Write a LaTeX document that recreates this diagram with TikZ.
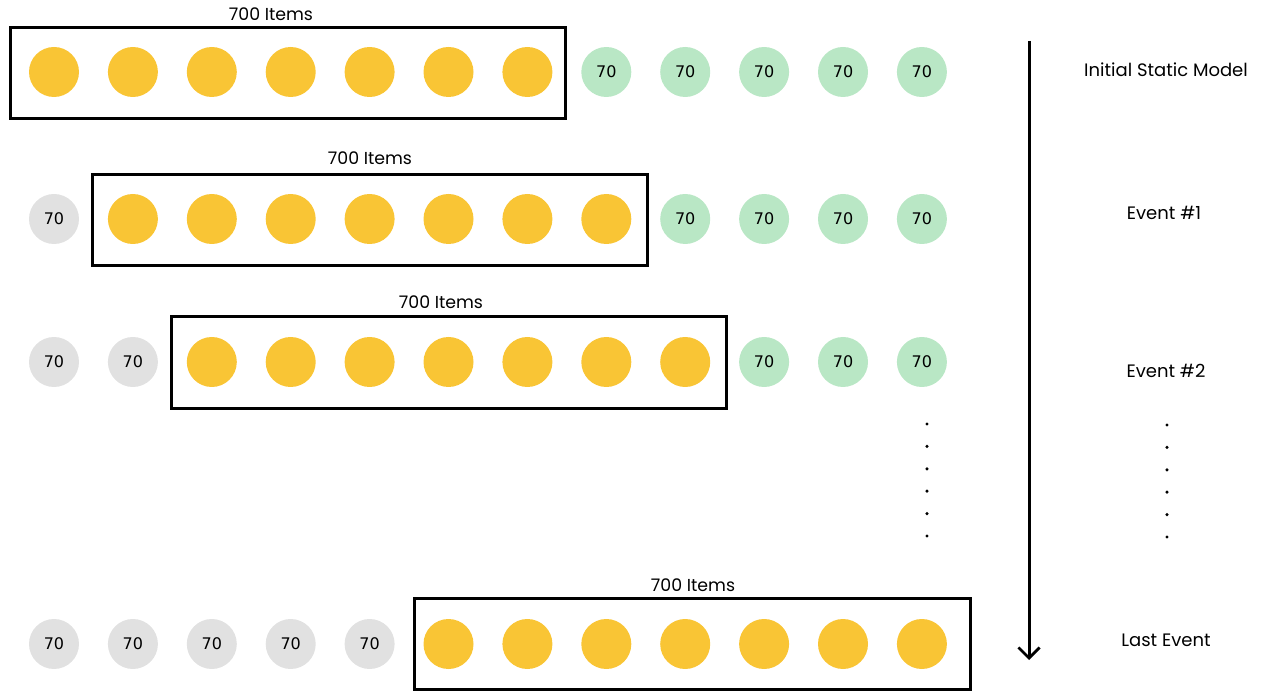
\documentclass[tikz,border=0pt]{standalone}
\usepackage{fontspec}
\setmainfont{Poppins}
\newfontfamily\numfont{DejaVu Sans}
\usetikzlibrary{arrows.meta}
\definecolor{itemyellow}{HTML}{F9C535}
\definecolor{itemgreen}{HTML}{B9E7C5}
\definecolor{itemgray}{HTML}{E1E1E1}
\tikzset{
  ball/.style={circle, minimum size=37.5pt, inner sep=0pt, draw=none},
  yball/.style={ball, fill=itemyellow},
  gball/.style={ball, fill=itemgreen, font=\numfont\fontsize{12}{14}\selectfont},
  sball/.style={ball, fill=itemgray, font=\numfont\fontsize{12}{14}\selectfont},
  itembox/.style={draw=black, line width=2.25pt, minimum width=416.5pt, minimum height=68.5pt, inner sep=0pt},
  boxlabel/.style={font=\fontsize{13}{15}\selectfont, inner sep=0pt},
  sidelabel/.style={font=\fontsize{13.5}{15}\selectfont, inner sep=0pt},
  dotmark/.style={circle, fill=black, inner sep=0pt, minimum size=2.6pt},
}
\begin{document}
\begin{tikzpicture}[x=0.75pt, y=-0.75pt]
\useasboundingbox (0,0) rectangle (1282,691);
% row 1
\foreach \i in {1,...,7} \node[yball] (r1c\i) at ({54+78.9*(\i-1)},72) {};
\foreach \i in {8,...,12} \node[gball] (r1c\i) at ({54+78.9*(\i-1)},72) {70};
% row 2
\node[sball] (r2c1) at (54,219) {70};
\foreach \i in {2,...,8} \node[yball] (r2c\i) at ({54+78.9*(\i-1)},219) {};
\foreach \i in {9,...,12} \node[gball] (r2c\i) at ({54+78.9*(\i-1)},219) {70};
% row 3
\foreach \i in {1,2} \node[sball] (r3c\i) at ({54+78.9*(\i-1)},362) {70};
\foreach \i in {3,...,9} \node[yball] (r3c\i) at ({54+78.9*(\i-1)},362) {};
\foreach \i in {10,...,12} \node[gball] (r3c\i) at ({54+78.9*(\i-1)},362) {70};
% row 4
\foreach \i in {1,...,5} \node[sball] (r4c\i) at ({54+78.9*(\i-1)},644) {70};
\foreach \i in {6,...,12} \node[yball] (r4c\i) at ({54+78.9*(\i-1)},644) {};
% boxes
\node[itembox] (box1) at (288,73) {};
\node[itembox] (box2) at (370,220) {};
\node[itembox] (box3) at (449,362.5) {};
\node[itembox] (box4) at (692.5,644) {};
% box labels
\node[boxlabel] (lab1) at (271,14) {700 Items};
\node[boxlabel] (lab2) at (370,158) {700 Items};
\node[boxlabel] (lab3) at (441,302) {700 Items};
\node[boxlabel] (lab4) at (693,585) {700 Items};
% side labels
\node[sidelabel] (s1) at (1166,70) {Initial Static Model};
\node[sidelabel] (s2) at (1164,213) {Event \#1};
\node[sidelabel] (s3) at (1166,371) {Event \#2};
\node[sidelabel] (s4) at (1166,640) {Last Event};
% dots
\foreach \k in {0,...,5} {
  \node[dotmark] (dl\k) at (927,{424+22.4*\k}) {};
  \node[dotmark] (dr\k) at (1167,{425+22.4*\k}) {};
}
% timeline arrow
\coordinate (atop) at (1029,41);
\coordinate (abot) at (1029,660);
\draw[line width=2.25pt, -{Straight Barb[length=8pt, width=16pt, line width=2pt]}] (atop) -- (abot);
\end{tikzpicture}
\end{document}
